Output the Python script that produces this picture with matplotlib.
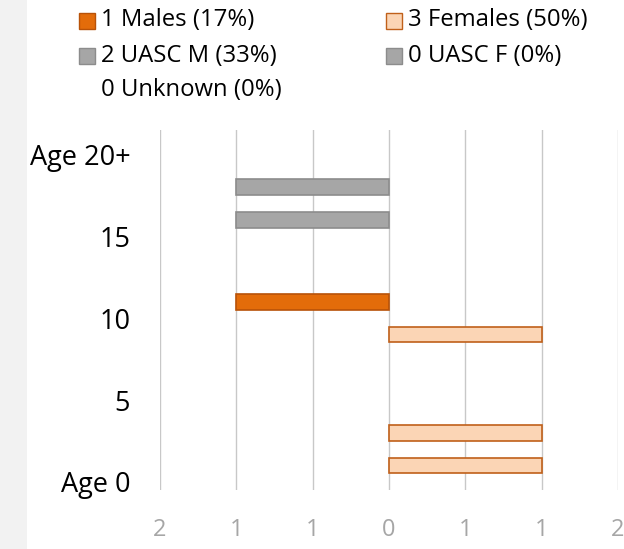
import matplotlib
matplotlib.use("Agg")
import matplotlib.pyplot as plt
from matplotlib.patches import Rectangle

# ---------------- data ----------------
ages = list(range(21))
males     = [0,0,0,0,0,0,0,0,0,0,0,1,0,0,0,0,0,0,0,0,0]
females   = [0,1,0,1,0,0,0,0,0,1,0,0,0,0,0,0,0,0,0,0,0]
uasc_m    = [0,0,0,0,0,0,0,0,0,0,0,0,0,0,0,0,1,0,1,0,0]
uasc_f    = [0]*21
unknown_n = 0

y_ticks = [0, 5, 10, 15, 20]
y_labels = ["Age 0", "5", "10", "15", "Age 20+"]
x_ticks = [-1.5, -1, -0.5, 0, 0.5, 1, 1.5]
x_labels = ["2", "1", "1", "0", "1", "1", "2"]

# ---------------- style ----------------
W, H = 624, 549
DPI = 100
FONT = "Open Sans"
plt.rcParams['font.family'] = [FONT, 'DejaVu Sans']

c_male, e_male = "#E36C0A", "#B85208"
c_fem, e_fem = "#FBD5B5", "#C0601A"
c_gray, e_gray = "#A6A6A6", "#8C8C8C"

fig = plt.figure(figsize=(W / DPI, H / DPI), dpi=DPI)
fig.patch.set_facecolor("white")
# left grey band
fig.add_artist(Rectangle((0, 0), 27 / W, 1, transform=fig.transFigure,
                         facecolor="#F2F2F2", edgecolor="none", zorder=0))

def px(x, y):
    return x / W, 1 - y / H

left, right, top, bottom = 160, 618, 130, 490
ax = fig.add_axes([left / W, 1 - bottom / H, (right - left) / W, (bottom - top) / H])
ax.set_facecolor("none")

bh = 0.96

def draw(vals, sign, fc, ec):
    ys = [a for a, v in zip(ages, vals) if v]
    ws = [sign * v for v in vals if v]
    if ys:
        ax.barh(ys, ws, height=bh, color=fc, edgecolor=ec, linewidth=1.2, zorder=3)

draw(males, -1, c_male, e_male)
draw(uasc_m, -1, c_gray, e_gray)
draw(females, 1, c_fem, e_fem)
draw(uasc_f, 1, c_gray, e_gray)

ax.set_xlim(-1.5, 1.5)
ax.set_ylim(-0.5, 21.5)
ax.set_xticks(x_ticks)
ax.set_xticklabels(x_labels, color="#A6A6A6", fontsize=17)
ax.set_yticks(y_ticks)
ax.set_yticklabels(y_labels, color="black", fontsize=19.5)
ax.tick_params(axis="both", length=0)
ax.tick_params(axis="y", pad=21.5)
ax.tick_params(axis="x", pad=20)
ax.grid(axis="x", color="#C8C8C8", linewidth=1, zorder=0)
ax.set_axisbelow(True)
for s in ax.spines.values():
    s.set_visible(False)

# ---------------- legend ----------------
total = sum(males) + sum(females) + sum(uasc_m) + sum(uasc_f) + unknown_n
def pct(n):
    return round(100 * n / total) if total else 0

entries = [
    (79, 20.5, c_male, e_male, f"{sum(males)} Males ({pct(sum(males))}%)"),
    (386, 20.5, c_fem, e_fem, f"{sum(females)} Females ({pct(sum(females))}%)"),
    (79, 55.5, c_gray, e_gray, f"{sum(uasc_m)} UASC M ({pct(sum(uasc_m))}%)"),
    (386, 55.5, c_gray, e_gray, f"{sum(uasc_f)} UASC F ({pct(sum(uasc_f))}%)"),
    (79, 89.5, None, None, f"{unknown_n} Unknown ({pct(unknown_n)}%)"),
]
for x0, yc, fc, ec, label in entries:
    if fc is not None:
        sx, sy = px(x0, yc + 8)
        fig.add_artist(Rectangle((sx, sy), 16 / W, 16 / H, transform=fig.transFigure,
                                 facecolor=fc, edgecolor=ec, linewidth=1))
    tx, ty = px(x0 + 22, yc)
    fig.text(tx, ty, label, ha="left", va="center", fontsize=17.2, color="black")

fig.savefig("out.png", dpi=DPI)
